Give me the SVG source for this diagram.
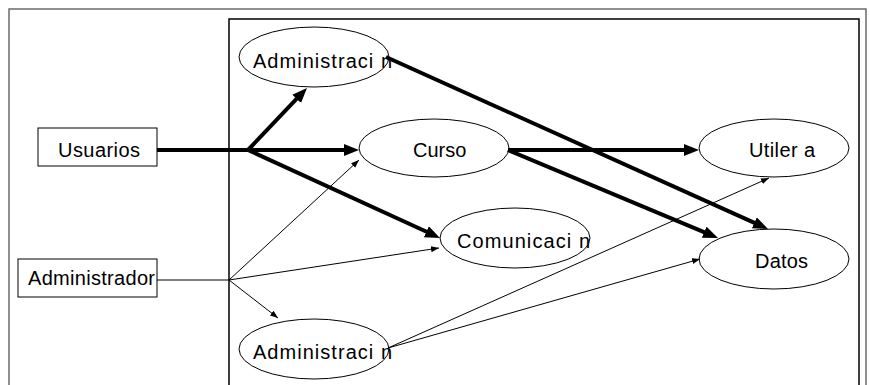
<svg xmlns="http://www.w3.org/2000/svg" width="870" height="385" viewBox="0 0 870 385">
<style>
  .frame{fill:none;stroke:#6b6b6b;stroke-width:1.5}
  .inner{fill:none;stroke:#000;stroke-width:1.5}
  .box{fill:#fff;stroke:#000;stroke-width:1}
  .ell{fill:#fff;stroke:#000;stroke-width:1}
  .lbl{font-family:"Liberation Sans",Arial,sans-serif;font-size:20px;fill:#000}
  .thick{fill:none;stroke:#000;stroke-width:4}
  .thin{fill:none;stroke:#000;stroke-width:1}
</style>
<defs>
  <marker id="big" markerUnits="userSpaceOnUse" markerWidth="16" markerHeight="14" refX="5" refY="6" orient="auto">
    <path d="M0,0 L15,6 L0,12 z" fill="#000"/>
  </marker>
  <marker id="small" markerUnits="userSpaceOnUse" markerWidth="9" markerHeight="7" refX="8" refY="3" orient="auto">
    <path d="M0,0 L8,3 L0,6 z" fill="#000"/>
  </marker>
</defs>
<rect width="870" height="385" fill="#fff"/>
<rect class="frame" x="9" y="9" width="857" height="390"/>
<rect class="inner" x="229" y="19" width="630" height="380"/>

<g id="usuarios">
  <rect class="box" x="38" y="128" width="119" height="38"/>
  <text class="lbl" x="58" y="157" textLength="82" lengthAdjust="spacing">Usuarios</text>
</g>
<g id="administrador">
  <rect class="box" x="18" y="259" width="139" height="38"/>
  <text class="lbl" x="28" y="285" textLength="127" lengthAdjust="spacing">Administrador</text>
</g>
<g id="admin-top">
  <ellipse class="ell" cx="314" cy="57" rx="75" ry="30"/>
  <text class="lbl" x="253" y="68" textLength="139" lengthAdjust="spacing">Administraci n</text>
</g>
<g id="curso">
  <ellipse class="ell" cx="434" cy="148" rx="75" ry="29"/>
  <text class="lbl" x="413" y="157">Curso</text>
</g>
<g id="utileria">
  <ellipse class="ell" cx="774" cy="148" rx="75" ry="29"/>
  <text class="lbl" x="749" y="157" textLength="66" lengthAdjust="spacing">Utiler a</text>
</g>
<g id="comunicacion">
  <ellipse class="ell" cx="515" cy="238" rx="75" ry="30"/>
  <text class="lbl" x="457" y="248" textLength="133" lengthAdjust="spacing">Comunicaci n</text>
</g>
<g id="datos">
  <ellipse class="ell" cx="774" cy="259" rx="75" ry="30"/>
  <text class="lbl" x="755" y="268" textLength="53" lengthAdjust="spacing">Datos</text>
</g>
<g id="admin-bottom">
  <ellipse class="ell" cx="314" cy="349" rx="75" ry="30"/>
  <text class="lbl" x="253" y="359" textLength="139" lengthAdjust="spacing">Administraci n</text>
</g>

<g id="connectors">
  <polyline class="thick" points="157,150 248,150"/>
  <line class="thick" x1="248" y1="150" x2="300.1" y2="95.2" marker-end="url(#big)"/>
  <line class="thick" x1="248" y1="150" x2="349" y2="150" marker-end="url(#big)"/>
  <line class="thick" x1="248" y1="150" x2="430.9" y2="233.8" marker-end="url(#big)"/>
  <line class="thick" x1="386" y1="57" x2="758.9" y2="224.9" marker-end="url(#big)"/>
  <line class="thick" x1="508" y1="150" x2="689" y2="150" marker-end="url(#big)"/>
  <line class="thick" x1="508" y1="150" x2="708.8" y2="234.1" marker-end="url(#big)"/>
  <line class="thin" x1="157" y1="280" x2="229" y2="280"/>
  <line class="thin" x1="229" y1="280" x2="359" y2="160" marker-end="url(#small)"/>
  <line class="thin" x1="229" y1="280" x2="439" y2="248" marker-end="url(#small)"/>
  <line class="thin" x1="229" y1="280" x2="278" y2="318" marker-end="url(#small)"/>
  <line class="thin" x1="388" y1="348" x2="769" y2="178" marker-end="url(#small)"/>
  <line class="thin" x1="388" y1="348" x2="700" y2="259" marker-end="url(#small)"/>
</g>
</svg>
